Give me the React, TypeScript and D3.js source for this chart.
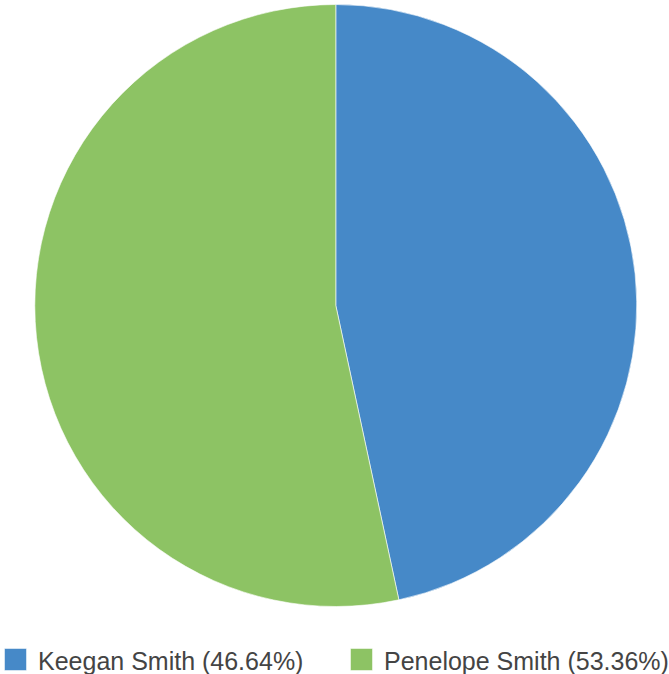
import React from "react";
import * as d3 from "d3";

const names = ["Keegan Smith", "Penelope Smith"];
const values = [46.64, 53.36];
const colors = ["#4689C8", "#8DC364"];

export default function App() {
  const width = 669;
  const height = 674;
  const cx = 335.8;
  const cy = 305.5;
  const r = 301;
  const pie = d3.pie<number>().sort(null).value((d) => d);
  const arcs = pie(values);
  const arcGen = d3.arc<d3.PieArcDatum<number>>().innerRadius(0).outerRadius(r);
  const legendX = [4, 350];
  return (
    <svg
      width={width}
      height={height}
      style={{ position: "absolute", left: 0, top: 0 }}
      fontFamily="'Liberation Sans', Arial, sans-serif"
    >
      <g transform={`translate(${cx},${cy})`}>
        {arcs.map((a, i) => (
          <path
            key={i}
            d={arcGen(a) || ""}
            fill={colors[i]}
            stroke="#ffffff"
            strokeOpacity={0.6}
            strokeWidth={1}
          />
        ))}
      </g>
      {names.map((n, i) => (
        <g key={n} transform={`translate(${legendX[i]},648)`}>
          <rect x={0.5} y={0.5} width={22} height={22} fill={colors[i]} stroke="#ffffff" strokeOpacity={0.5} />
          <text x={34} y={22} fontSize={25} fill="#444444">
            {`${n} (${values[i].toFixed(2)}%)`}
          </text>
        </g>
      ))}
    </svg>
  );
}
